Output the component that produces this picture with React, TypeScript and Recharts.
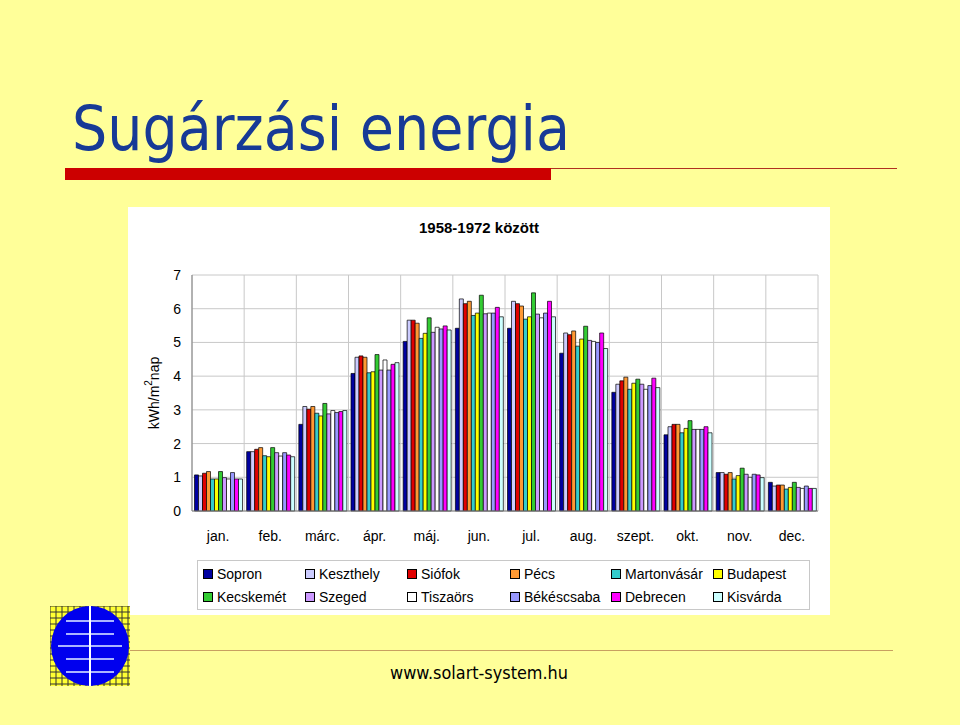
import { BarChart, Bar, XAxis, YAxis, CartesianGrid } from "recharts";

const months = ["jan.", "feb.", "márc.", "ápr.", "máj.", "jun.", "jul.", "aug.", "szept.", "okt.", "nov.", "dec."];

// kWh/m2 per day
const sopron = [1.07, 1.76, 2.57, 4.08, 5.03, 5.42, 5.42, 4.68, 3.52, 2.26, 1.14, 0.85];
const keszthely = [1.04, 1.76, 3.1, 4.56, 5.66, 6.29, 6.22, 5.28, 3.76, 2.5, 1.14, 0.74];
const siofok = [1.12, 1.83, 3.02, 4.6, 5.66, 6.15, 6.15, 5.23, 3.86, 2.57, 1.09, 0.77];
const pecs = [1.17, 1.88, 3.1, 4.56, 5.57, 6.22, 6.08, 5.34, 3.97, 2.57, 1.14, 0.77];
const martonvasar = [0.95, 1.64, 2.9, 4.1, 5.12, 5.8, 5.69, 4.89, 3.61, 2.32, 0.95, 0.65];
const budapest = [0.95, 1.61, 2.82, 4.13, 5.27, 5.87, 5.76, 5.1, 3.79, 2.45, 1.05, 0.7];
const kecskemet = [1.17, 1.88, 3.19, 4.64, 5.73, 6.4, 6.47, 5.48, 3.91, 2.68, 1.27, 0.85];
const szeged = [0.99, 1.73, 2.88, 4.18, 5.3, 5.85, 5.84, 5.06, 3.76, 2.42, 1.09, 0.7];
const tiszaors = [0.95, 1.63, 2.98, 4.48, 5.45, 5.87, 5.73, 5.03, 3.61, 2.42, 1.0, 0.67];
const bekescsaba = [1.14, 1.73, 2.92, 4.18, 5.4, 5.87, 5.87, 5.0, 3.72, 2.42, 1.09, 0.74];
const debrecen = [0.95, 1.66, 2.95, 4.35, 5.49, 6.04, 6.22, 5.28, 3.94, 2.5, 1.07, 0.67];
const kisvarda = [0.95, 1.61, 2.98, 4.4, 5.37, 5.76, 5.76, 4.82, 3.66, 2.32, 0.99, 0.67];

const yTicks = [0, 1, 2, 3, 4, 5, 6, 7];

const stations = [
  { name: "Sopron", color: "#0000a0", values: sopron },
  { name: "Keszthely", color: "#ccccff", values: keszthely },
  { name: "Siófok", color: "#e00000", values: siofok },
  { name: "Pécs", color: "#ff9933", values: pecs },
  { name: "Martonvásár", color: "#33cccc", values: martonvasar },
  { name: "Budapest", color: "#ffff00", values: budapest },
  { name: "Kecskemét", color: "#33cc33", values: kecskemet },
  { name: "Szeged", color: "#cc99ff", values: szeged },
  { name: "Tiszaörs", color: "#ffffff", values: tiszaors },
  { name: "Békéscsaba", color: "#9999ff", values: bekescsaba },
  { name: "Debrecen", color: "#ff00ff", values: debrecen },
  { name: "Kisvárda", color: "#ccffff", values: kisvarda },
];

const data = months.map((m, i) => {
  const row: Record<string, string | number> = { month: m };
  stations.forEach((s) => (row[s.name] = s.values[i]));
  return row;
});

const font = "'Liberation Sans', Arial, sans-serif";

function YLabel(props: any) {
  const vb = props.viewBox || {};
  const x = vb.x + 3;
  const cy = vb.y + vb.height / 2;
  return (
    <text
      x={x}
      y={cy}
      transform={`rotate(-90, ${x}, ${cy})`}
      textAnchor="middle"
      dominantBaseline="middle"
      fontFamily={font}
      fontSize={14}
      fill="#000"
    >
      kWh/m
      <tspan dy={-6} fontSize={10}>2</tspan>
      <tspan dy={6}>nap</tspan>
    </text>
  );
}

function Logo() {
  const lines = [];
  for (let i = 0; i <= 80; i += 6) {
    lines.push(<line key={"v" + i} x1={i} y1={0} x2={i} y2={80} stroke="#333" strokeWidth={1} />);
    lines.push(<line key={"h" + i} x1={0} y1={i} x2={80} y2={i} stroke="#333" strokeWidth={1} />);
  }
  return (
    <svg width={81} height={81} style={{ position: "absolute", left: 50, top: 606 }}>
      <rect x={0} y={0} width={80} height={80} fill="#ffff33" />
      {lines}
      <ellipse cx={40} cy={40} rx={39} ry={40} fill="#0000ee" />
      {[15, 28, 40, 53, 66].map((y, i) => (
        <line key={y} x1={i === 2 ? 8 : 16} y1={y} x2={i === 2 ? 72 : 64} y2={y} stroke="#aab4ff" strokeWidth={2} />
      ))}
      <line x1={40} y1={0} x2={40} y2={80} stroke="#fff" strokeWidth={2} />
    </svg>
  );
}

export default function App() {
  return (
    <div
      style={{
        position: "absolute",
        left: 0,
        top: 0,
        width: 960,
        height: 725,
        background: "#ffff99",
        overflow: "hidden",
        fontFamily: font,
      }}
    >
      <svg width={960} height={200} style={{ position: "absolute", left: 0, top: 0 }}>
        <text
          x={72}
          y={150}
          fontFamily="'DejaVu Sans', Verdana, sans-serif"
          fontSize={63}
          fill="#173a96"
          textLength={498}
          lengthAdjust="spacingAndGlyphs"
        >
          Sugárzási energia
        </text>
        <rect x={65} y={168} width={486} height={12} fill="#cc0000" />
        <line x1={551} y1={168.5} x2={897} y2={168.5} stroke="#b03020" strokeWidth={1.2} />
      </svg>

      <div style={{ position: "absolute", left: 128, top: 207, width: 702, height: 408, background: "#fff" }}>
        <div
          style={{
            position: "absolute",
            left: 0,
            top: 12,
            width: 702,
            textAlign: "center",
            fontWeight: "bold",
            fontSize: 15,
            color: "#000",
          }}
        >
          1958-1972 között
        </div>
        <BarChart
          width={702}
          height={408}
          data={data}
          margin={{ top: 68, right: 12, left: 24, bottom: 74 }}
          barCategoryGap={2.5}
          barGap={0}
        >
          <CartesianGrid
            stroke="#c8c8c8"
            verticalCoordinatesGenerator={({ offset }: any) =>
              [...months.map((_, i) => offset.left + (i * offset.width) / months.length), offset.left + offset.width]
            }
          />
          <XAxis
            dataKey="month"
            interval={0}
            tickLine={false}
            tickMargin={14}
            height={30}
            axisLine={{ stroke: "#808080" }}
            tick={{ fontFamily: font, fontSize: 14, fill: "#000" }}
          />
          <XAxis
            xAxisId="top"
            dataKey="month"
            orientation="top"
            height={0}
            tick={false}
            tickLine={false}
            axisLine={{ stroke: "#808080" }}
          />
          <YAxis
            domain={[0, 7]}
            ticks={yTicks}
            width={40}
            tickLine={false}
            tickMargin={5}
            axisLine={{ stroke: "#808080" }}
            tick={{ fontFamily: font, fontSize: 14, fill: "#000" }}
            label={{ content: YLabel }}
          />
          <YAxis
            yAxisId="right"
            orientation="right"
            domain={[0, 7]}
            width={0}
            tick={false}
            tickLine={false}
            axisLine={{ stroke: "#808080" }}
          />
          {stations.map((s) => (
            <Bar
              key={s.name}
              dataKey={s.name}
              fill={s.color}
              stroke="#000"
              strokeWidth={0.7}
              isAnimationActive={false}
            />
          ))}
        </BarChart>
        <div
          style={{
            position: "absolute",
            left: 69,
            top: 353,
            width: 613,
            height: 50,
            border: "1px solid #c8c8c8",
            boxSizing: "border-box",
            display: "grid",
            gridTemplateColumns: "102px 102px 103px 101px 102px 90px",
            gridAutoRows: "23px",
            paddingLeft: 5,
            paddingTop: 1,
          }}
        >
          {stations.map((s) => (
            <div
              key={s.name}
              style={{ display: "flex", alignItems: "center", fontSize: 14, color: "#000", whiteSpace: "nowrap" }}
            >
              <span
                style={{
                  display: "inline-block",
                  flex: "none",
                  width: 8,
                  height: 8,
                  background: s.color,
                  border: "1px solid #000",
                  marginRight: 4,
                }}
              />
              {s.name}
            </div>
          ))}
        </div>
      </div>

      <Logo />
      <div style={{ position: "absolute", left: 130, top: 650, width: 763, height: 1, background: "#c8a060" }} />
      <svg width={300} height={30} style={{ position: "absolute", left: 380, top: 660 }}>
        <text
          x={10}
          y={19}
          fontFamily="'DejaVu Sans', Verdana, sans-serif"
          fontSize={17}
          fill="#000"
          textLength={178}
          lengthAdjust="spacingAndGlyphs"
        >
          www.solart-system.hu
        </text>
      </svg>
    </div>
  );
}
